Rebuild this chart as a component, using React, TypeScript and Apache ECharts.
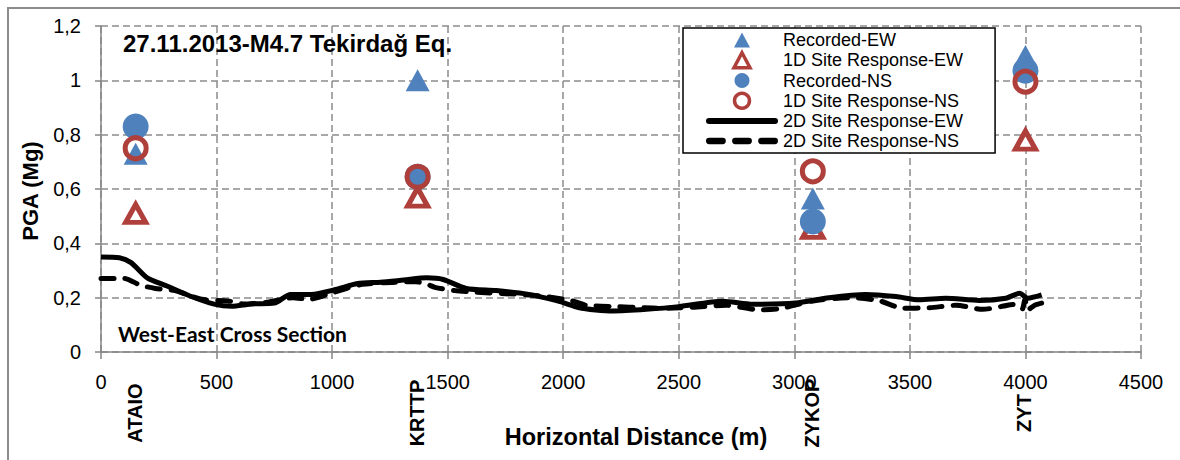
import React, { useEffect, useRef } from "react";
import * as echarts from "echarts";

// Stations (horizontal distance in m)
const stationNames = ["ATAIO", "KRTTP", "ZYKOP", "ZYT"];
const stationDist = [150, 1370, 3080, 4000];

// PGA (g) at stations
const recordedEW = [0.73, 1.0, 0.565, 1.09];
const site1DEW = [0.51, 0.57, 0.455, 0.78];
const recordedNS = [0.83, 0.645, 0.48, 1.035];
const site1DNS = [0.75, 0.645, 0.665, 0.995];

// 2D site response along the cross section
const ew2DDist = [0, 80, 130, 200, 285, 385, 490, 565, 650, 750, 820, 910, 1015, 1110, 1210, 1310, 1410, 1480, 1580, 1710, 1845, 1975, 2070, 2140, 2215, 2360, 2500, 2690, 2820, 3005, 3150, 3310, 3440, 3540, 3655, 3800, 3915, 3975, 4010, 4070];
const ew2DPGA = [0.35, 0.347, 0.329, 0.273, 0.243, 0.206, 0.176, 0.168, 0.177, 0.18, 0.212, 0.212, 0.23, 0.252, 0.257, 0.265, 0.273, 0.267, 0.234, 0.226, 0.213, 0.188, 0.163, 0.155, 0.151, 0.157, 0.167, 0.187, 0.176, 0.18, 0.2, 0.212, 0.204, 0.192, 0.198, 0.19, 0.198, 0.216, 0.198, 0.21];
const ns2DDist = [0, 100, 170, 235, 320, 435, 550, 615, 715, 830, 900, 1000, 1130, 1260, 1360, 1410, 1445, 1530, 1625, 1790, 1910, 2040, 2100, 2230, 2345, 2430, 2560, 2705, 2850, 2940, 3080, 3255, 3370, 3470, 3585, 3700, 3815, 3905, 3945, 3985, 3998, 4010, 4040, 4070];
const ns2DPGA = [0.271, 0.271, 0.246, 0.234, 0.226, 0.194, 0.188, 0.177, 0.183, 0.2, 0.194, 0.218, 0.249, 0.256, 0.259, 0.25, 0.238, 0.226, 0.22, 0.213, 0.206, 0.188, 0.172, 0.167, 0.163, 0.161, 0.165, 0.172, 0.155, 0.16, 0.188, 0.2, 0.188, 0.161, 0.163, 0.172, 0.157, 0.169, 0.175, 0.157, 0.195, 0.155, 0.172, 0.18];

const seriesNames = [
  "Recorded-EW",
  "1D Site Response-EW",
  "Recorded-NS",
  "1D Site Response-NS",
  "2D Site Response-EW",
  "2D Site Response-NS",
];

const titleText = "27.11.2013-M4.7 Tekirdağ Eq.";
const sectionText = "West-East Cross Section";
const xTitle = "Horizontal Distance (m)";
const yTitle = "PGA (Mg)";

const BLUE = "#4F81BD";
const RED = "#AE3F3B";
const GRID = "#8c8c8c";
const FONT = '"Liberation Sans", Arial, sans-serif';

const TRI_ICON = "path://M8,0L16,15L0,15Z";
const SOLID_ICON = "path://M3,0H69A3,3,0,0,1,69,6H3A3,3,0,0,1,3,0Z";
const DASH_ICON =
  "path://M4,0H17A3,3,0,0,1,17,6H4A3,3,0,0,1,4,0Z M29,0H42A3,3,0,0,1,42,6H29A3,3,0,0,1,29,0Z M54,0H67A3,3,0,0,1,67,6H54A3,3,0,0,1,54,0Z";

const pairs = (xs: number[], ys: number[]) => xs.map((x, i) => [x, ys[i]]);

export default function App() {
  const ref = useRef<HTMLDivElement>(null);
  useEffect(() => {
    if (!ref.current) return;
    const chart = echarts.init(ref.current, null, { renderer: "svg" });
    const axisLine = { show: true, lineStyle: { color: "#868686", width: 1.5 } };
    const splitLine = { show: true, lineStyle: { color: GRID, width: 1.5, type: [7, 4] } };
    chart.setOption({
      animation: false,
      backgroundColor: "#fff",
      grid: { left: 101, right: 39, top: 26, bottom: 108 },
      legend: {
        data: [
          { name: seriesNames[0], icon: TRI_ICON, itemStyle: { color: BLUE, borderWidth: 0 } },
          { name: seriesNames[1], icon: TRI_ICON, itemStyle: { color: "#fff", borderColor: RED, borderWidth: 3.5 } },
          { name: seriesNames[2], icon: "circle", itemStyle: { color: BLUE, borderWidth: 0 } },
          { name: seriesNames[3], icon: "circle", itemStyle: { color: "#fff", borderColor: RED, borderWidth: 3.5 } },
          { name: seriesNames[4], icon: SOLID_ICON, itemStyle: { color: "#000", borderWidth: 0 } },
          { name: seriesNames[5], icon: DASH_ICON, itemStyle: { color: "#000", borderWidth: 0 } },
        ],
        orient: "vertical",
        left: 683,
        top: 28,
        itemWidth: 72,
        itemHeight: 15,
        itemGap: 2,
        padding: [3, 32, 3, 23],
        backgroundColor: "#fff",
        borderColor: "#000",
        borderWidth: 1.5,
        borderRadius: 0,
        textStyle: { fontSize: 18, fontFamily: FONT, color: "#000" },
      },
      xAxis: {
        type: "value",
        min: 0,
        max: 4500,
        interval: 500,
        axisLine,
        axisTick: { show: true, length: 7, lineStyle: { color: "#868686", width: 1.5 } },
        axisLabel: {
          fontSize: 20,
          fontFamily: FONT,
          color: "#000",
          margin: 20,
          formatter: (v: number) => String(v),
        },
        splitLine,
      },
      yAxis: {
        type: "value",
        min: 0,
        max: 1.2,
        interval: 0.2,
        axisLine,
        axisTick: { show: true, length: 6, lineStyle: { color: "#868686", width: 1.5 } },
        axisLabel: {
          fontSize: 20,
          fontFamily: FONT,
          color: "#000",
          margin: 20,
          formatter: (v: number) => String(Math.round(v * 10) / 10).replace(".", ","),
        },
        splitLine,
      },
      series: [
        {
          name: seriesNames[0],
          type: "scatter",
          symbol: "triangle",
          symbolSize: [24, 22],
          itemStyle: { color: BLUE, opacity: 1 },
          data: pairs(stationDist, recordedEW),
        },
        {
          name: seriesNames[1],
          type: "scatter",
          symbol: "triangle",
          symbolSize: [20, 18],
          itemStyle: { color: "#fff", borderColor: RED, borderWidth: 5, opacity: 1 },
          data: pairs(stationDist, site1DEW),
        },
        {
          name: seriesNames[2],
          type: "scatter",
          symbol: "circle",
          symbolSize: 26,
          itemStyle: { color: BLUE, opacity: 1 },
          data: pairs(stationDist, recordedNS),
        },
        {
          name: seriesNames[3],
          type: "scatter",
          symbol: "circle",
          symbolSize: 21,
          itemStyle: { color: "rgba(255,255,255,0)", borderColor: RED, borderWidth: 5, opacity: 1 },
          data: pairs(stationDist, site1DNS),
        },
        {
          name: seriesNames[4],
          type: "line",
          symbol: "none",
          showSymbol: false,
          smooth: 0.25,
          lineStyle: { color: "#000", width: 5 },
          itemStyle: { color: "#000" },
          data: pairs(ew2DDist, ew2DPGA),
        },
        {
          name: seriesNames[5],
          type: "line",
          symbol: "none",
          showSymbol: false,
          smooth: 0.25,
          lineStyle: { color: "#000", width: 5, type: [13, 11], cap: "round" },
          itemStyle: { color: "#000" },
          data: pairs(ns2DDist, ns2DPGA),
        },
      ],
    });

    const stationGraphics = stationNames.map((name, i) => {
      const p = chart.convertToPixel({ xAxisIndex: 0, yAxisIndex: 0 }, [stationDist[i], 0]) as number[];
      return {
        type: "text",
        x: p[0] - 1,
        y: p[1] + 61,
        rotation: Math.PI / 2,
        silent: true,
        style: {
          text: name,
          font: `bold 20px ${FONT}`,
          fill: "#000",
          align: "center",
          verticalAlign: "middle",
        },
      };
    });

    chart.setOption({
      graphic: [
        {
          type: "rect",
          silent: true,
          z: -10,
          shape: { x: 8, y: 8, width: 1400, height: 700 },
          style: { fill: "none", stroke: "#8c8c8c", lineWidth: 2 },
        },
        {
          type: "text",
          x: 123,
          y: 43,
          silent: true,
          style: { text: titleText, font: `bold 24px ${FONT}`, fill: "#000", align: "left", verticalAlign: "middle" },
        },
        {
          type: "text",
          x: 118,
          y: 333,
          silent: true,
          style: { text: sectionText, font: 'bold 21px Lato, "Open Sans", sans-serif', fill: "#000", align: "left", verticalAlign: "middle" },
        },
        {
          type: "text",
          x: 30,
          y: 191,
          rotation: Math.PI / 2,
          silent: true,
          style: { text: yTitle, font: `bold 22px ${FONT}`, fill: "#000", align: "center", verticalAlign: "middle" },
        },
        {
          type: "text",
          x: 636,
          y: 437,
          silent: true,
          style: { text: xTitle, font: `bold 23.5px ${FONT}`, fill: "#000", align: "center", verticalAlign: "middle" },
        },
        ...stationGraphics,
      ],
    });
    return () => chart.dispose();
  }, []);
  return (
    <div
      ref={ref}
      style={{ position: "absolute", left: 0, top: 0, width: 1180, height: 460 }}
    />
  );
}
